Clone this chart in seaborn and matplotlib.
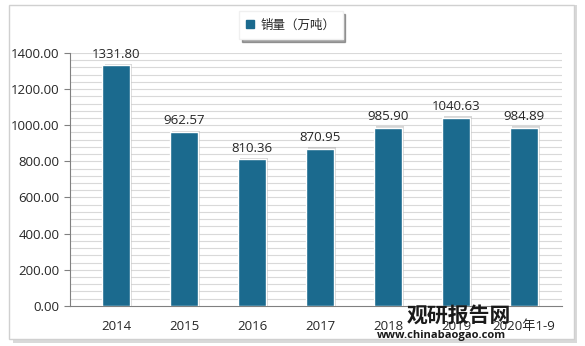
import matplotlib
matplotlib.use('Agg')
import matplotlib.pyplot as plt
import matplotlib.patches as mpatches
import seaborn as sns
import pandas as pd

# datos
anios = ['2014', '2015', '2016', '2017', '2018', '2019', '2020年1-9']
ventas = [1331.80, 962.57, 810.36, 870.95, 985.90, 1040.63, 984.89]
serie = '销量（万吨）'

color_barra = '#1b6a8e'

sns.set_style('white')
plt.rcParams['font.family'] = ['Open Sans', 'Noto Sans CJK SC', 'DejaVu Sans']

df = pd.DataFrame({'anio': anios, 'ventas': ventas})

fig = plt.figure(figsize=(5.85, 3.46), dpi=100)
fig.patch.set_facecolor('white')

# marco exterior con sombra
sombra = mpatches.Rectangle((0.022, 0.01), 0.965, 0.975, transform=fig.transFigure,
                            facecolor='#d9d9d9', edgecolor='none', zorder=-3)
marco = mpatches.Rectangle((0.016, 0.02), 0.965, 0.965, transform=fig.transFigure,
                           facecolor='white', edgecolor='#d0d0d0', linewidth=1.0, zorder=-2)
fig.patches.extend([sombra, marco])

ax = fig.add_axes([0.120, 0.116, 0.841, 0.731])
ax.set_facecolor('none')

sns.barplot(data=df, x='anio', y='ventas', ax=ax, color=color_barra, width=0.41,
            edgecolor='white', linewidth=1.0, saturation=1, zorder=3)

# sombra de barras
for p in list(ax.patches):
    s = mpatches.Rectangle((p.get_x() + 0.03, 0), p.get_width(), p.get_height() + 8,
                           facecolor='#b0b0b0', alpha=0.5, edgecolor='none', zorder=2)
    ax.add_patch(s)

for i, v in enumerate(ventas):
    ax.text(i, v + 25, f'{v:.2f}', ha='center', va='bottom', fontsize=9.5, color='#262626', zorder=5)

ax.set_ylim(0, 1400)
ax.set_xlim(-0.68, 6.56)
ax.set_yticks(range(0, 1401, 200))
ax.set_yticklabels([f'{t:.2f}' for t in range(0, 1401, 200)])
for y in range(40, 1401, 40):
    ax.axhline(y, color='#d9d9d9', linewidth=0.8, zorder=1)

ax.set_xlabel('')
ax.set_ylabel('')
ax.tick_params(axis='y', length=4, color='#808080', labelsize=9.5, labelcolor='#262626', left=True)
ax.tick_params(axis='x', length=0, labelsize=9.5, labelcolor='#262626', pad=10)
for lado in ['top', 'right']:
    ax.spines[lado].set_visible(False)
ax.spines['left'].set_color('#808080')
ax.spines['bottom'].set_color('#808080')

# leyenda
handle = mpatches.Patch(color=color_barra, label=serie)
leg = fig.legend(handles=[handle], loc='center', bbox_to_anchor=(0.497, 0.928), frameon=True,
                 fontsize=9, handlelength=0.6, handleheight=0.6, handletextpad=0.5,
                 fancybox=False, shadow=True, borderpad=0.6)
leg.get_frame().set_edgecolor('#f0f0f0')

# marca de agua
fig.text(0.785, 0.09, '观研报告网', fontsize=15, fontweight='bold', color='#1a1a1a',
         ha='center', va='center', family=['Noto Sans CJK SC'], zorder=10)
fig.text(0.755, 0.03, 'www.chinabaogao.com', fontsize=8, fontweight='bold', color='#1a1a1a',
         ha='center', va='center', zorder=10)

fig.savefig('out.png', dpi=100)
